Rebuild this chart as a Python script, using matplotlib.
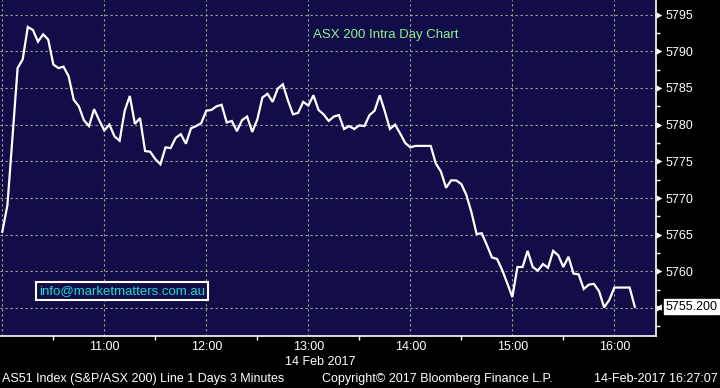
import matplotlib
matplotlib.use('Agg')
import matplotlib.pyplot as plt
import matplotlib.transforms as mtransforms
from matplotlib.path import Path
import numpy as np

# AS51 close of each 3-minute bar on 14 Feb 2017, first bar at 10:00
prices = [5765.4, 5769.0, 5778.3, 5787.7, 5788.9, 5793.3, 5792.9, 5791.3, 5792.3, 5791.6,
          5788.2, 5787.7, 5787.9, 5786.6, 5783.4, 5782.5, 5780.6, 5779.8, 5782.1, 5780.6,
          5779.2, 5780.0, 5778.4, 5777.8, 5781.9, 5783.9, 5780.1, 5780.9, 5776.4, 5776.3,
          5775.3, 5774.6, 5776.9, 5776.8, 5778.2, 5778.7, 5777.4, 5779.5, 5779.8, 5780.2,
          5781.9, 5782.0, 5782.5, 5782.7, 5780.3, 5780.5, 5779.1, 5780.6, 5781.1, 5779.0,
          5780.7, 5783.7, 5784.2, 5783.1, 5784.9, 5785.5, 5783.3, 5781.4, 5781.6, 5783.1,
          5782.6, 5784.0, 5782.0, 5781.4, 5780.5, 5781.1, 5781.3, 5779.4, 5779.8, 5779.4,
          5779.9, 5779.8, 5781.3, 5781.9, 5784.0, 5781.8, 5779.4, 5780.0, 5778.8, 5777.5,
          5776.9, 5777.1, 5777.1, 5777.1, 5777.1, 5774.7, 5773.6, 5771.4, 5772.4, 5772.4,
          5771.9, 5770.4, 5768.0, 5765.1, 5765.2, 5763.6, 5761.9, 5761.7, 5760.2, 5758.4,
          5756.5, 5760.6, 5760.6, 5762.8, 5760.6, 5760.1, 5761.0, 5760.5, 5762.8, 5762.2,
          5760.6, 5762.0, 5759.7, 5759.6, 5757.6, 5758.2, 5758.3, 5757.3, 5755.1, 5756.1,
          5757.8, 5757.8, 5757.8, 5757.8, 5755.2]
bar_minutes = 3
minutes = np.arange(len(prices)) * bar_minutes   # minutes after 10:00

hour_ticks = [0, 60, 120, 180, 240, 300, 360]
hour_labels = ['', '11:00', '12:00', '13:00', '14:00', '15:00', '16:00']
half_ticks = [0, 30, 90, 150, 210, 270, 330]
price_ticks = [5755, 5760, 5765, 5770, 5775, 5780, 5785, 5790, 5795]
# 5755 is hidden under the last-price tag
price_labels = ['', '5760', '5765', '5770', '5775', '5780', '5785', '5790', '5795']
price_minor = [5752.5, 5757.5, 5762.5, 5767.5, 5772.5, 5777.5, 5782.5, 5787.5, 5792.5]

navy = '#110d48'
gridc = '#a8a48e'
font = 'Liberation Sans'

fig = plt.figure(figsize=(7.2, 3.88), dpi=100, facecolor='black')
ax = fig.add_axes([0, 52 / 388, 656 / 720, 336 / 388])
ax.set_facecolor(navy)

ax.plot(minutes, prices, color='white', lw=1.6, solid_joinstyle='miter', zorder=3)

ax.set_xlim(-1.35, 384.5)
ax.set_ylim(5751.2, 5796.98)

ax.set_xticks(hour_ticks)
ax.set_xticklabels(hour_labels)
ax.set_xticks(half_ticks, minor=True)
ax.set_yticks(price_ticks)
ax.set_yticklabels(price_labels)
ax.set_yticks(price_minor, minor=True)

ax.yaxis.tick_right()
ax.tick_params(axis='x', which='major', length=0, pad=3.5, labelsize=9, labelcolor='white')
ax.tick_params(axis='x', which='minor', length=3, width=1, color='white', direction='out')
ax.tick_params(axis='y', which='major', length=0, pad=7, labelsize=9, labelcolor='white')
ax.tick_params(axis='y', which='minor', length=3, width=1, color='white', direction='out')
for lab in ax.get_xticklabels() + ax.get_yticklabels():
    lab.set_family(font)

for s in ['top', 'left']:
    ax.spines[s].set_visible(False)
for s in ['bottom', 'right']:
    ax.spines[s].set_color('white')
    ax.spines[s].set_linewidth(1.2)

ax.grid(True, which='major', color=gridc, lw=0.8, linestyle=(0, (2, 2.5)))
ax.set_axisbelow(True)

# triangular pointers on the price axis
blend = mtransforms.blended_transform_factory(ax.transAxes, ax.transData)
tri_right = Path([(0, -0.55), (1, 0), (0, 0.55), (0, -0.55)],
                 [Path.MOVETO, Path.LINETO, Path.LINETO, Path.CLOSEPOLY])
ax.scatter([1.0] * len(price_ticks), price_ticks, transform=blend, marker=tri_right,
           s=70, color='white', lw=0, clip_on=False, zorder=5)

# last price tag
tri_left = Path([(0, 0), (1, -0.6), (1, 0.6), (0, 0)],
                [Path.MOVETO, Path.LINETO, Path.LINETO, Path.CLOSEPOLY])
ax.scatter([1.0], [prices[-1]], transform=blend, marker=tri_left, s=60,
           color='white', lw=0, clip_on=False, zorder=11)
ax.annotate(f'{prices[-1]:.3f}', xy=(1.0, prices[-1]), xycoords=blend,
            xytext=(6.5, 0), textcoords='offset points', va='center', ha='left',
            fontsize=9, family=font, color='black', zorder=12, annotation_clip=False,
            bbox=dict(boxstyle='square,pad=0.12', fc='white', ec='white'))

ax.text(386 / 656, (336 - 35) / 336, 'ASX 200 Intra Day Chart', transform=ax.transAxes,
        ha='center', va='center', color='#8ef08e', fontsize=9.5, family=font)

ax.text(122 / 656, (336 - 291) / 336, 'info@marketmatters.com.au', transform=ax.transAxes,
        ha='center', va='center', color='#22d8d8', fontsize=9.5, family=font,
        bbox=dict(boxstyle='square,pad=0.25', fc=navy, ec='white', lw=1.5))

fig.text(320 / 720, (388 - 362) / 388, '14 Feb 2017', ha='center', va='center',
         color='white', fontsize=9, family=font)
fig.text(2 / 720, (388 - 379) / 388, 'AS51 Index (S&P/ASX 200) Line 1 Days 3 Minutes',
         ha='left', va='center', color='white', fontsize=9, family=font)
fig.text(322 / 720, (388 - 379) / 388, 'Copyright\u00a9 2017 Bloomberg Finance L.P.',
         ha='left', va='center', color='white', fontsize=9, family=font)
fig.text(718 / 720, (388 - 379) / 388, '14-Feb-2017 16:27:07',
         ha='right', va='center', color='white', fontsize=9, family=font)

fig.savefig('out.png', dpi=100, facecolor='black')
